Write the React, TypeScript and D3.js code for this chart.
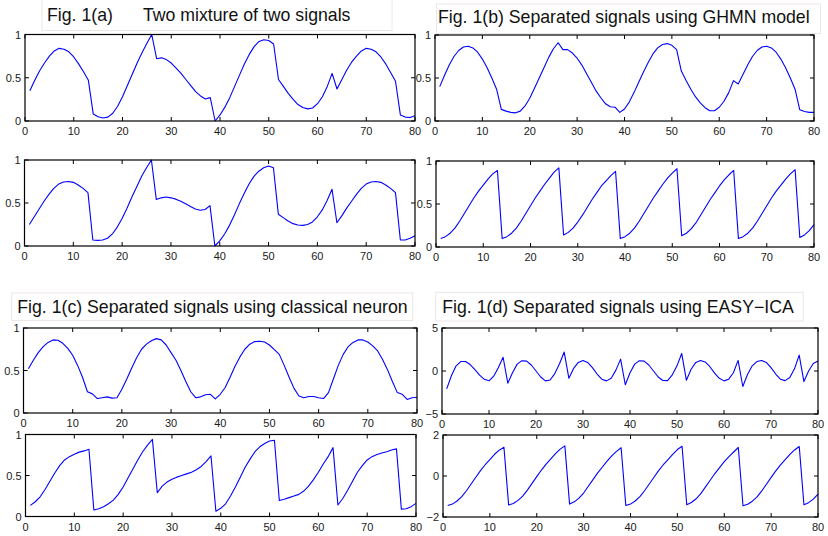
import React from 'react'
import * as d3 from 'd3'

// sample index 1..80 on the x axis
const SAMPLE = d3.range(1, 81)
const X_TICKS = [0, 10, 20, 30, 40, 50, 60, 70, 80]
const UNIT_TICKS = [0, 0.5, 1]
const ICA1_TICKS = [-5, 0, 5]
const ICA2_TICKS = [-2, 0, 2]

// Fig. 1(a) two mixtures
const mixture1 = [
  0.35, 0.47, 0.58, 0.67, 0.75, 0.81, 0.84, 0.83, 0.8, 0.74, 0.66, 0.57, 0.47,
  0.08, 0.05, 0.035, 0.045, 0.09, 0.17, 0.28, 0.41, 0.54, 0.67, 0.79, 0.9, 1.0,
  0.72, 0.73, 0.71, 0.67, 0.61, 0.55, 0.48, 0.41, 0.34, 0.29, 0.255, 0.27,
  0.0, 0.07, 0.16, 0.27, 0.4, 0.53, 0.66, 0.77, 0.86, 0.92, 0.94, 0.93, 0.89,
  0.48, 0.4, 0.32, 0.25, 0.19, 0.155, 0.14, 0.15, 0.2, 0.28, 0.4, 0.55,
  0.37, 0.48, 0.59, 0.68, 0.75, 0.81, 0.84, 0.83, 0.8, 0.74, 0.66, 0.56, 0.46,
  0.07, 0.045, 0.04, 0.06,
]
const mixture2 = [
  0.25, 0.34, 0.43, 0.52, 0.6, 0.67, 0.72, 0.745, 0.75, 0.74, 0.71, 0.67, 0.62,
  0.07, 0.065, 0.07, 0.09, 0.14, 0.22, 0.32, 0.44, 0.57, 0.69, 0.81, 0.91, 1.0,
  0.54, 0.56, 0.57, 0.56, 0.545, 0.52, 0.49, 0.46, 0.43, 0.415, 0.425, 0.47,
  0.0, 0.06, 0.14, 0.24, 0.36, 0.49, 0.61, 0.72, 0.81, 0.87, 0.91, 0.93, 0.91,
  0.37, 0.33, 0.29, 0.26, 0.245, 0.24, 0.25, 0.28, 0.34, 0.42, 0.53, 0.66,
  0.27, 0.35, 0.44, 0.52, 0.6, 0.67, 0.72, 0.745, 0.75, 0.74, 0.71, 0.67, 0.62,
  0.07, 0.07, 0.09, 0.12,
]

// Fig. 1(b) GHMN model
const ghmn1 = [
  0.4, 0.53, 0.65, 0.75, 0.82, 0.86, 0.87, 0.85, 0.8, 0.72, 0.62, 0.5, 0.37,
  0.135, 0.115, 0.1, 0.095, 0.115, 0.175, 0.265, 0.38, 0.5, 0.62, 0.74, 0.84, 0.91,
  0.83, 0.83, 0.79, 0.73, 0.65, 0.55, 0.45, 0.35, 0.27, 0.2, 0.165, 0.16,
  0.1, 0.14, 0.22, 0.33, 0.45, 0.57, 0.68, 0.78, 0.85, 0.89, 0.9, 0.88, 0.83,
  0.58, 0.47, 0.37, 0.28, 0.21, 0.155, 0.12, 0.12, 0.16, 0.23, 0.33, 0.47,
  0.43, 0.54, 0.65, 0.75, 0.82, 0.86, 0.87, 0.85, 0.8, 0.72, 0.62, 0.5, 0.37,
  0.13, 0.11, 0.1, 0.1,
]
const ghmn2 = [
  0.1, 0.12, 0.16, 0.22, 0.3, 0.39, 0.48, 0.57, 0.65, 0.72, 0.79, 0.85, 0.89,
  0.1, 0.12, 0.16, 0.22, 0.3, 0.39, 0.48, 0.57, 0.65, 0.73, 0.8, 0.87, 0.92,
  0.14, 0.17, 0.22, 0.29, 0.37, 0.46, 0.55, 0.63, 0.71, 0.77, 0.83, 0.88,
  0.1, 0.12, 0.16, 0.22, 0.3, 0.39, 0.48, 0.57, 0.65, 0.73, 0.8, 0.86, 0.91,
  0.13, 0.16, 0.21, 0.28, 0.37, 0.46, 0.55, 0.63, 0.71, 0.78, 0.84, 0.89,
  0.1, 0.12, 0.16, 0.22, 0.3, 0.39, 0.48, 0.57, 0.65, 0.72, 0.79, 0.85, 0.9,
  0.11, 0.14, 0.19, 0.26,
]

// Fig. 1(c) classical neuron
const classical1 = [
  0.52, 0.62, 0.71, 0.78, 0.83, 0.86, 0.855, 0.82, 0.76, 0.68, 0.56, 0.42, 0.25,
  0.225, 0.17, 0.18, 0.19, 0.175, 0.18, 0.28, 0.4, 0.53, 0.65, 0.75, 0.81, 0.85,
  0.875, 0.86, 0.8, 0.71, 0.62, 0.5, 0.37, 0.25, 0.18, 0.19, 0.215, 0.22,
  0.165, 0.22, 0.3, 0.42, 0.55, 0.66, 0.75, 0.81, 0.84, 0.845, 0.835, 0.8, 0.745,
  0.69, 0.56, 0.42, 0.29, 0.2, 0.18, 0.195, 0.195, 0.18, 0.17, 0.24, 0.4,
  0.56, 0.69, 0.78, 0.83, 0.86, 0.86, 0.835, 0.79, 0.73, 0.63, 0.51, 0.37, 0.24,
  0.22, 0.16, 0.18, 0.185,
]
const classical2 = [
  0.135, 0.18, 0.24, 0.33, 0.43, 0.53, 0.62, 0.69, 0.73, 0.76, 0.785, 0.8, 0.82,
  0.08, 0.095, 0.12, 0.155, 0.2, 0.27, 0.36, 0.47, 0.58, 0.69, 0.79, 0.87, 0.94,
  0.29, 0.37, 0.42, 0.455, 0.48, 0.5, 0.52, 0.54, 0.57, 0.61, 0.67, 0.74,
  0.065, 0.1, 0.155, 0.25, 0.36, 0.48, 0.6, 0.7, 0.79, 0.85, 0.89, 0.92, 0.93,
  0.195, 0.21, 0.23, 0.25, 0.27, 0.31, 0.37, 0.45, 0.54, 0.64, 0.73, 0.84,
  0.14, 0.22, 0.32, 0.43, 0.54, 0.62, 0.69, 0.73, 0.755, 0.775, 0.79, 0.81, 0.825,
  0.09, 0.095, 0.12, 0.16,
]

// Fig. 1(d) EASY-ICA
const ica1 = [
  -2.08, -0.55, 0.6, 1.1, 1.1, 0.75, 0.16, -0.48, -0.97, -1.14, -0.6, 0.4, 1.6,
  -1.42, -0.2, 0.8, 1.2, 1.15, 0.7, 0.0, -0.7, -1.15, -1.05, -0.3, 0.85, 2.2,
  -0.85, 0.3, 1.0, 1.23, 1.0, 0.4, -0.35, -0.95, -1.15, -0.85, 0.1, 1.38,
  -1.6, -0.2, 0.8, 1.2, 1.15, 0.7, 0.0, -0.7, -1.1, -1.12, -0.45, 0.6, 2.04,
  -1.08, 0.2, 1.0, 1.23, 1.05, 0.5, -0.25, -0.85, -1.15, -0.95, -0.2, 1.23,
  -1.8, -0.4, 0.6, 1.1, 1.23, 1.0, 0.4, -0.35, -0.95, -1.12, -0.75, 0.25, 1.85,
  -1.23, 0.0, 0.88, 1.15,
]
const ica2 = [
  -1.44, -1.37, -1.22, -1.01, -0.72, -0.39, -0.06, 0.26, 0.55, 0.8, 1.06, 1.26, 1.4,
  -1.41, -1.34, -1.19, -0.98, -0.69, -0.36, -0.03, 0.29, 0.58, 0.84, 1.09, 1.31, 1.47,
  -1.37, -1.26, -1.08, -0.83, -0.5, -0.18, 0.15, 0.44, 0.73, 0.98, 1.2, 1.38,
  -1.44, -1.37, -1.22, -1.01, -0.72, -0.39, -0.06, 0.26, 0.55, 0.8, 1.06, 1.29, 1.45,
  -1.4, -1.29, -1.11, -0.86, -0.53, -0.21, 0.12, 0.41, 0.7, 0.95, 1.17, 1.39,
  -1.45, -1.38, -1.23, -1.02, -0.73, -0.4, -0.07, 0.25, 0.54, 0.8, 1.05, 1.27, 1.44,
  -1.4, -1.3, -1.13, -0.88,
]

const FONT = '"Liberation Sans", Arial, Helvetica, sans-serif'

// [left, top, right, bottom] of each axes box
const PANELS = [
  { values: mixture1, ticks: UNIT_TICKS, box: [25, 34.5, 415, 121] },
  { values: mixture2, ticks: UNIT_TICKS, box: [24.5, 160, 415, 246] },
  { values: ghmn1, ticks: UNIT_TICKS, box: [435, 35, 814, 121] },
  { values: ghmn2, ticks: UNIT_TICKS, box: [436, 161, 814, 247] },
  { values: classical1, ticks: UNIT_TICKS, box: [23.5, 328, 417, 413] },
  { values: classical2, ticks: UNIT_TICKS, box: [25.5, 434.5, 416, 516.5] },
  { values: ica1, ticks: ICA1_TICKS, box: [442, 328, 818, 414] },
  { values: ica2, ticks: ICA2_TICKS, box: [443, 435, 818, 517] },
]

// title boxes: [x, y, w, h], text start, baseline
const TITLES = [
  { parts: [['Fig. 1(a)', 47], ['Two mixture of two signals', 143]], box: [42, -1, 350, 31.5], base: 20.5 },
  { parts: [['Fig. 1(b) Separated signals using GHMN model', 438]], box: [436.5, 4, 384, 29.5], base: 23 },
  { parts: [['Fig. 1(c) Separated signals using classical neuron', 17.3]], box: [11.7, 293, 401, 27.5], base: 313.3 },
  { parts: [['Fig. 1(d) Separated signals using EASY\u2212ICA', 442.3]], box: [435.7, 292.3, 367.6, 28.7], base: 313.3 },
]

const fmt = (v: number) => (v < 0 ? '\u2212' + Math.abs(v) : String(v))

function Panel({ values, ticks, box }: { values: number[]; ticks: number[]; box: number[] }) {
  const [x0, y0, x1, y1] = box
  const x = d3.scaleLinear().domain([0, 80]).range([x0, x1])
  const y = d3.scaleLinear().domain([ticks[0], ticks[ticks.length - 1]]).range([y1, y0])
  const line = d3
    .line<number>()
    .x((_, i) => x(SAMPLE[i]))
    .y((d) => y(d))
  const tl = 4
  return (
    <g>
      <path d={line(values) || ''} fill="none" stroke="#0000ff" strokeWidth={1.1} strokeLinejoin="round" />
      {X_TICKS.map((t) => (
        <g key={'x' + t}>
          <line x1={x(t)} x2={x(t)} y1={y1} y2={y1 - tl} stroke="#000" />
          <line x1={x(t)} x2={x(t)} y1={y0} y2={y0 + tl} stroke="#000" />
          <text x={x(t)} y={y1 + 14} textAnchor="middle" fontSize={11} fill="#1a1a1a" fontFamily={FONT}>
            {fmt(t)}
          </text>
        </g>
      ))}
      {ticks.map((t) => (
        <g key={'y' + t}>
          <line x1={x0} x2={x0 + tl} y1={y(t)} y2={y(t)} stroke="#000" />
          <line x1={x1} x2={x1 - tl} y1={y(t)} y2={y(t)} stroke="#000" />
          <text x={x0 - 4} y={y(t) + 4} textAnchor="end" fontSize={11} fill="#1a1a1a" fontFamily={FONT}>
            {fmt(t)}
          </text>
        </g>
      ))}
      <rect x={x0} y={y0} width={x1 - x0} height={y1 - y0} fill="none" stroke="#000" strokeWidth={1.2} />
    </g>
  )
}

export default function App() {
  return (
    <div style={{ position: 'absolute', left: 0, top: 0 }}>
      <svg width={828} height={536} style={{ display: 'block', background: '#fff' }}>
        {TITLES.map((t, i) => (
          <g key={i}>
            <rect x={t.box[0]} y={t.box[1]} width={t.box[2]} height={t.box[3]} fill="#fff" stroke="#ece6e4" />
            {t.parts.map(([label, px]) => (
              <text key={label as string} x={px as number} y={t.base} fontSize={17.7} fill="#111" fontFamily={FONT}>
                {label}
              </text>
            ))}
          </g>
        ))}
        {PANELS.map((p, i) => (
          <Panel key={i} values={p.values} ticks={p.ticks} box={p.box} />
        ))}
      </svg>
    </div>
  )
}
